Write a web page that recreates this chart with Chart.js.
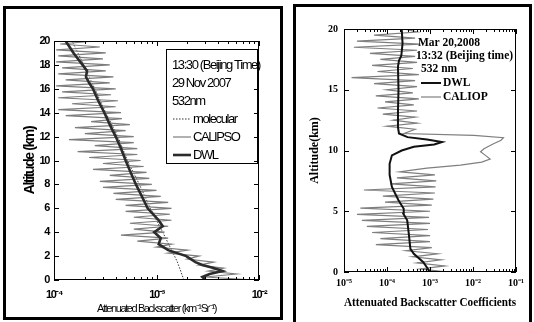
<!DOCTYPE html>
<html><head><meta charset="utf-8">
<script src="https://cdn.jsdelivr.net/npm/chart.js@4.4.1/dist/chart.umd.min.js"></script>
<style>
html,body{margin:0;padding:0;background:#fff;width:534px;height:322px;overflow:hidden;position:relative}
.frame{position:absolute;border:3px solid #000;box-sizing:border-box}
#f1{left:3px;top:6px;width:280px;height:314px}
#f2{left:293px;top:4px;width:239px;height:340px}
#c1{position:absolute;left:0;top:0}
#c2{position:absolute;left:287px;top:0}
</style></head><body>
<div class="frame" id="f1"></div><div class="frame" id="f2"></div>
<canvas id="c1" width="287" height="322"></canvas>
<canvas id="c2" width="247" height="322"></canvas>
<script>
// ---------- Left panel (29 Nov 2007) ----------
const calipsoAlt = [0,0.25,0.5,0.75,1,1.25,1.5,1.75,2,2.25,2.5,2.75,3,3.25,3.5,3.75,4,4.25,4.5,4.75,5,5.25,5.5,5.75,6,6.25,6.5,6.75,7,7.25,7.5,7.75,8,8.25,8.5,8.75,9,9.25,9.5,9.75,10,10.25,10.5,10.75,11,11.25,11.5,11.75,12,12.25,12.5,12.75,13,13.25,13.5,13.75,14,14.25,14.5,14.75,15,15.25,15.5,15.75,16,16.25,16.5,16.75,17,17.25,17.5,17.75,18,18.25,18.5,18.75,19,19.25,19.5,19.75,20];
const calipsoVal = [9.0e-3,3.0e-3,6.0e-3,3.2e-3,4.5e-3,2.6e-3,3.6e-3,2.0e-3,2.6e-3,1.3e-3,2.0e-3,1.0e-3,1.4e-3,6.5e-4,1.3e-3,4.5e-4,1.2e-3,6.0e-4,1.3e-3,5.5e-4,1.4e-3,6.0e-4,1.35e-3,5.0e-4,1.4e-3,5.0e-4,1.3e-3,4.0e-4,1.1e-3,3.8e-4,1.0e-3,3.0e-4,9.0e-4,2.8e-4,8.5e-4,3.5e-4,8.0e-4,2.4e-4,7.5e-4,3.0e-4,7.0e-4,2.2e-4,6.5e-4,1.7e-4,6.5e-4,2.5e-4,6.0e-4,1.4e-4,6.0e-4,2.0e-4,5.0e-4,1.6e-4,5.5e-4,2.3e-4,4.6e-4,1.3e-4,4.5e-4,1.1e-4,4.0e-4,1.5e-4,4.2e-4,1.1e-4,3.6e-4,1.2e-4,4.0e-4,1.05e-4,3.5e-4,1.3e-4,3.8e-4,1.1e-4,3.2e-4,1.2e-4,3.5e-4,1.05e-4,3.0e-4,1.1e-4,3.2e-4,1.05e-4,2.8e-4,1.15e-4,2.5e-4];
const dwlAlt = [0,0.25,0.5,0.75,1,1.25,1.5,2,2.5,3,3.5,4,4.5,5,5.5,6,7,8,9,10,11,12,13,14,15,16,16.5,17,17.5,18,19,20];
const dwlVal = [3.0e-3,2.8e-3,3.3e-3,4.4e-3,3.6e-3,2.8e-3,2.4e-3,1.95e-3,1.3e-3,1.05e-3,1.1e-3,9.5e-4,1.15e-3,1.05e-3,9.3e-4,8.2e-4,7.2e-4,6.3e-4,5.6e-4,5.0e-4,4.5e-4,4.0e-4,3.5e-4,3.1e-4,2.7e-4,2.4e-4,2.2e-4,2.05e-4,2.1e-4,1.9e-4,1.55e-4,1.3e-4];
const molAlt = [0,1.5,2,4,6,8,10,12,14,16,18,20];
const molVal = [1.85e-3,1.6e-3,1.5e-3,1.15e-3,8.7e-4,6.8e-4,5.2e-4,4.2e-4,3.2e-4,2.5e-4,1.95e-4,1.5e-4];
const leftXTicks = [1e-4,1e-3,1e-2];
const leftXLabels = ['10\u207B\u2074','10\u207B\u00B3','10\u207B\u00B2'];
const leftHeader = ['13:30 (Beijing Time)','29 Nov 2007','532nm'];
const leftLegendOrder = ['molecular','CALIPSO','DWL'];

// ---------- Right panel (20 Mar 2008) ----------
const caliopAlt = [0,0.25,0.5,0.75,1,1.25,1.5,1.75,2,2.25,2.5,2.75,3,3.25,3.5,3.75,4,4.25,4.5,4.75,5,5.25,5.5,5.75,6,6.25,6.5,6.75,7,7.25,7.5,7.75,8,8.25,8.4,8.55,8.8,9.05,9.3,9.6,9.9,10.15,10.55,10.85,11.05,11.25,11.4,11.75,12,12.25,12.5,12.75,13,13.25,13.5,13.75,14,14.25,14.5,14.75,15,15.25,15.5,15.75,16,16.25,16.5,16.75,17,17.25,17.5,17.75,18,18.25,18.5,18.75,19,19.25,19.5,19.75,20];
const caliopVal = [2.5e-3,6.0e-4,2.2e-3,5.0e-4,1.8e-3,4.0e-4,1.5e-3,2.8e-4,1.1e-3,5.5e-5,1.0e-3,7.0e-5,1.0e-3,4.5e-5,9.0e-4,3.4e-5,1.0e-3,2.6e-5,9.5e-4,2.0e-5,1.0e-3,2.4e-5,1.1e-3,9.0e-5,1.2e-3,8.0e-5,1.3e-3,2.9e-5,1.35e-3,1.2e-4,1.4e-3,1.7e-4,1.3e-3,2.0e-4,4.2e-4,8.5e-4,5.1e-3,1.6e-2,2.5e-2,1.95e-2,1.5e-2,1.8e-2,3.0e-2,4.5e-2,5.1e-2,1.05e-2,2.5e-4,4.5e-4,1.0e-4,5.0e-4,1.4e-4,4.5e-4,8.0e-5,5.0e-4,6.0e-5,4.2e-4,9.0e-5,5.5e-4,5.5e-5,4.0e-4,1.0e-4,5.0e-4,5.0e-5,4.5e-4,1.5e-5,5.5e-4,6.0e-5,4.0e-4,4.5e-5,5.0e-4,7.0e-5,4.5e-4,4.0e-5,5.0e-4,1.7e-5,6.0e-4,2.0e-5,4.5e-4,5.0e-5,5.0e-4,2.5e-4];
const dwl2Alt = [0,0.8,1.5,1.9,3.2,4.25,4.8,5.2,5.9,7,8,8.9,9.6,10,10.3,10.5,10.7,10.9,11.1,11.4,11.9,13.3,15,16.9,17.4,17.8,18.8,20];
const dwl2Val = [1.0e-3,7.0e-4,4.2e-4,3.5e-4,3.2e-4,2.95e-4,2.4e-4,2.45e-4,1.85e-4,1.3e-4,1.15e-4,1.15e-4,1.3e-4,2.2e-4,4.2e-4,1.25e-3,1.9e-3,8.5e-4,3.0e-4,1.9e-4,1.8e-4,1.8e-4,1.85e-4,1.8e-4,1.9e-4,2.15e-4,2.3e-4,2.2e-4];
const rightXTicks = [1e-5,1e-4,1e-3,1e-2,1e-1];
const rightXLabels = ['10\u207B\u2075','10\u207B\u2074','10\u207B\u00B3','10\u207B\u00B2','10\u207B\u00B9'];
const rightHeader = ['Mar 20,2008','13:32 (Beijing time)','532 nm'];
const rightLegendOrder = ['DWL','CALIOP'];

const zip = (vals, alts) => vals.map((v,i)=>({x:v, y:alts[i]}));

const SANS = '"Liberation Sans",Arial,sans-serif';
const SERIF = '"Liberation Serif","Times New Roman",serif';

function minorsOf(majors){
  const out=[];
  for(let i=0;i<majors.length-1;i++) for(let k=2;k<=9;k++) out.push(majors[i]*k);
  return out;
}

const boxTicks = {
  id:'boxTicks',
  afterDraw(chart, args, o){
    const {ctx, chartArea:a, scales:{x,y}} = chart;
    ctx.save();
    ctx.strokeStyle='#000'; ctx.lineWidth=1;
    ctx.strokeRect(Math.round(a.left)+0.5, Math.round(a.top)+0.5, Math.round(a.right-a.left)-1, Math.round(a.bottom-a.top)-1);
    ctx.beginPath();
    o.xMajor.forEach(v=>{const p=Math.round(x.getPixelForValue(v))+0.5;
      ctx.moveTo(p,a.bottom); ctx.lineTo(p,a.bottom-o.major);
      ctx.moveTo(p,a.top); ctx.lineTo(p,a.top+o.major);});
    minorsOf(o.xMajor).forEach(v=>{const p=Math.round(x.getPixelForValue(v))+0.5;
      ctx.moveTo(p,a.bottom); ctx.lineTo(p,a.bottom-o.minor);
      ctx.moveTo(p,a.top); ctx.lineTo(p,a.top+o.minor);});
    y.ticks.forEach(t=>{const p=Math.round(y.getPixelForValue(t.value))+0.5;
      ctx.moveTo(a.left,p); ctx.lineTo(a.left+o.major,p);
      ctx.moveTo(a.right,p); ctx.lineTo(a.right-o.major,p);});
    ctx.stroke(); ctx.restore();
  }
};

const condense = {
  id:'condense',
  beforeDraw(chart, args, o){ chart.ctx.letterSpacing = o.spacing; }
};

function sample(ctx, ds, x0, x1, yy){
  ctx.save();
  ctx.strokeStyle = ds.borderColor; ctx.lineWidth = ds.borderWidth;
  ctx.setLineDash(ds.borderDash || []);
  ctx.beginPath(); ctx.moveTo(x0,yy); ctx.lineTo(x1,yy); ctx.stroke();
  ctx.restore();
}

const leftLegend = {
  id:'leftLegend',
  afterDatasetsDraw(chart){
    const ctx=chart.ctx;
    const bx=166, by=49, bw=91, bh=114;
    ctx.save();
    ctx.fillStyle='#fff'; ctx.fillRect(bx,by,bw,bh);
    ctx.strokeStyle='#000'; ctx.lineWidth=1; ctx.strokeRect(bx+0.5,by+0.5,bw,bh);
    ctx.fillStyle='#000'; ctx.textBaseline='middle'; ctx.textAlign='left';
    ctx.font = '13px '+SANS;
    leftHeader.forEach((t,i)=>ctx.fillText(t, bx+6, by+16+i*18));
    leftLegendOrder.forEach((lab,i)=>{
      const ds = chart.data.datasets.find(d=>d.label===lab);
      const yy = by+16+(i+3)*18;
      sample(ctx, ds, bx+7, bx+25, yy);
      ctx.fillText(lab, bx+27, yy);
    });
    ctx.restore();
  }
};

const rightNotes = {
  id:'rightNotes',
  afterDatasetsDraw(chart){
    const ctx=chart.ctx;
    ctx.save();
    ctx.fillStyle='#000'; ctx.textBaseline='middle'; ctx.textAlign='left';
    ctx.font = 'bold 11.5px '+SERIF;
    const hx=[131,129,134], hy=[43,56,69];
    rightHeader.forEach((t,i)=>ctx.fillText(t, hx[i], hy[i]));
    const ly=[83,97];
    rightLegendOrder.forEach((lab,i)=>{
      const ds = chart.data.datasets.find(d=>d.label===lab);
      sample(ctx, ds, 134, 154, ly[i]);
      ctx.fillText(lab, 156, ly[i]);
    });
    ctx.restore();
  }
};

new Chart(document.getElementById('c1'), {
  type:'scatter',
  data:{datasets:[
    {label:'DWL', data:zip(dwlVal,dwlAlt), showLine:true, borderColor:'#2b2b2b', borderWidth:2.6, pointRadius:0},
    {label:'CALIPSO', data:zip(calipsoVal,calipsoAlt), showLine:true, borderColor:'#7d7d7d', borderWidth:1.2, pointRadius:0},
    {label:'molecular', data:zip(molVal,molAlt), showLine:true, borderColor:'#333', borderWidth:1, borderDash:[1.5,1.5], pointRadius:0}
  ]},
  options:{
    responsive:false, animation:false, devicePixelRatio:1,
    layout:{padding:{left:0,right:28,top:41,bottom:0}},
    plugins:{legend:{display:false}, tooltip:{enabled:false}, condense:{spacing:'-1.4px'},
      boxTicks:{xMajor:leftXTicks, major:5, minor:3}},
    scales:{
      x:{type:'logarithmic', min:1e-4, max:1e-2,
        afterFit(s){s.height=42;},
        afterBuildTicks(s){s.ticks = leftXTicks.map(v=>({value:v}));},
        ticks:{callback:(v,i)=>leftXLabels[i], autoSkip:false, maxRotation:0, padding:8, color:'#000', font:{family:SANS, size:11, weight:'bold'}},
        grid:{display:false, drawTicks:false}, border:{display:false},
        title:{display:true, text:'Attenuated Backscatter (km\u207B\u00B9Sr\u207B\u00B9)', color:'#000', padding:{top:0,bottom:6}, font:{family:SANS, size:11}}
      },
      y:{type:'linear', min:0, max:20,
        afterFit(s){s.width=54;},
        ticks:{stepSize:2, padding:5, color:'#000', font:{family:SANS, size:11, weight:'bold'}},
        grid:{display:false, drawTicks:false}, border:{display:false},
        title:{display:true, text:'Altitude (km)', color:'#000', padding:{top:22,bottom:0}, font:{family:SANS, size:14, weight:'bold'}}
      }
    }
  },
  plugins:[condense, leftLegend, boxTicks]
});

new Chart(document.getElementById('c2'), {
  type:'scatter',
  data:{datasets:[
    {label:'DWL', data:zip(dwl2Val,dwl2Alt), showLine:true, borderColor:'#111', borderWidth:2, pointRadius:0},
    {label:'CALIOP', data:zip(caliopVal,caliopAlt), showLine:true, borderColor:'#7f7f7f', borderWidth:1.2, pointRadius:0}
  ]},
  options:{
    responsive:false, animation:false, devicePixelRatio:1,
    layout:{padding:{left:0,right:18,top:29,bottom:0}},
    plugins:{legend:{display:false}, tooltip:{enabled:false},
      boxTicks:{xMajor:rightXTicks, major:5, minor:3}},
    scales:{
      x:{type:'logarithmic', min:1e-5, max:1e-1,
        afterFit(s){s.height=50;},
        afterBuildTicks(s){s.ticks = rightXTicks.map(v=>({value:v}));},
        ticks:{callback:(v,i)=>rightXLabels[i], autoSkip:false, maxRotation:0, padding:5, color:'#000', font:{family:SERIF, size:10, weight:'bold'}},
        grid:{display:false, drawTicks:false}, border:{display:false},
        title:{display:true, text:'Attenuated Backscatter Coefficients', color:'#000', padding:{top:0,bottom:12}, font:{family:SERIF, size:13, weight:'bold'}}
      },
      y:{type:'linear', min:0, max:20,
        afterFit(s){s.width=57;},
        ticks:{stepSize:5, padding:6, color:'#000', font:{family:SERIF, size:10, weight:'bold'}},
        grid:{display:false, drawTicks:false}, border:{display:false},
        title:{display:true, text:'Altitude(km)', color:'#000', padding:{top:21,bottom:0}, font:{family:SERIF, size:12, weight:'bold'}}
      }
    }
  },
  plugins:[rightNotes, boxTicks]
});
</script>
</body></html>
